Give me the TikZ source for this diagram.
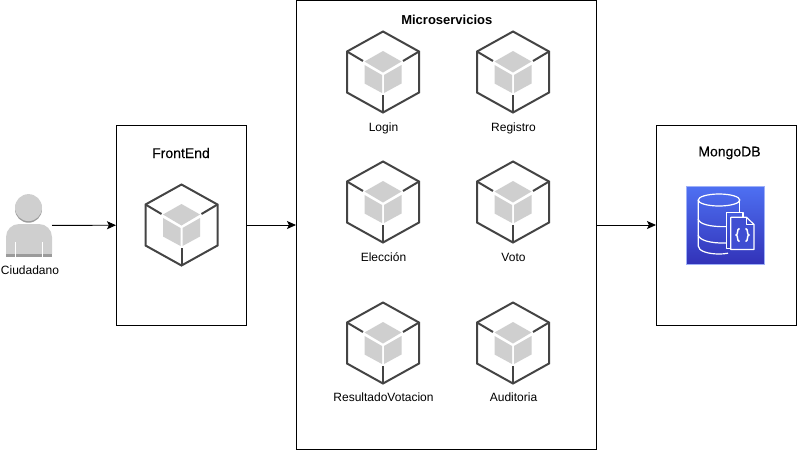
\documentclass[tikz,border=0pt]{standalone}
\usepackage{fontspec}
\setmainfont{Liberation Sans}
\usepackage{xcolor}
\usetikzlibrary{arrows.meta,positioning}
\definecolor{cubeline}{RGB}{68,68,68}
\definecolor{cubefill}{RGB}{207,207,207}
\definecolor{personshade}{RGB}{155,155,155}
\definecolor{icontop}{RGB}{78,112,242}
\definecolor{iconbottom}{RGB}{50,50,184}
\tikzset{
  servicebox/.style={draw,fill=white,line width=0.9pt,inner sep=0pt,outer sep=0pt},
  servicelabel/.style={font=\fontsize{12}{14}\selectfont,inner sep=0pt},
  boxtitle/.style={font=\fontsize{14}{16}\selectfont\addfontfeatures{FakeBold=0.25},inner sep=0pt},
  link/.style={-{Stealth[length=9pt,width=8pt,inset=2pt]},line width=0.9pt},
  iconline/.style={draw=white,line width=1.2pt,line join=round},
  cubeicon/.pic={
    \draw[cubeline,line width=2pt] (0,-40.5) -- (36,-20.5) -- (36,20.5) -- (0,40.5)
      -- (-36,20.5) -- (-36,-20.5) -- cycle;
    \draw[cubeline,line width=2pt] (-36,-20.5) -- (-20,-11);
    \draw[cubeline,line width=2pt] (36,-20.5) -- (20,-11);
    \draw[cubeline,line width=2pt] (0,23) -- (0,40.5);
    \fill[cubefill] (0,-21) -- (18.5,-10.5) -- (0,0.5) -- (-18.5,-10.5) -- cycle;
    \fill[cubefill] (-18.5,-7) -- (-1,3) -- (-1,21) -- (-18.5,11.5) -- cycle;
    \fill[cubefill] (18.5,-7) -- (1,3) -- (1,21) -- (18.5,11.5) -- cycle;
  }
}

\begin{document}
\begin{tikzpicture}[x=1pt,y=-1pt]
    \useasboundingbox (0,0) rectangle (797,451);
    % the three boxes
    \node[servicebox,minimum width=130pt,minimum height=200pt] (frontend) at (181,225) {};
    \node[servicebox,minimum width=300pt,minimum height=449pt] (micro) at (446,225) {};
    \node[servicebox,minimum width=140pt,minimum height=200pt] (mongodb) at (726,225) {};
    \node[boxtitle] (frontendtitle) at (181,153) {FrontEnd};
    \node[font=\fontsize{13}{15}\selectfont\bfseries,inner sep=0pt] (microtitle) at (446.8,20) {Microservicios};
    \node[boxtitle] (mongodbtitle) at (729.5,153) {MongoDB};
    % user
    \node[minimum width=46pt,minimum height=64pt,inner sep=0pt,outer sep=0pt] (ciudadano) at (29,225.5) {};
    \fill[personshade] (28.5,209.2) circle (13.5);
    \fill[cubefill] (28.5,207.6) circle (13.5);
    \fill[cubefill,rounded corners=13pt] (6,270) -- (6,224) -- (52,224) -- (52,270) -- cycle;
    \fill[white] (5,254) rectangle (53,272);
    \fill[personshade] (6,254) rectangle (52,257);
    \draw[white,line width=0.8pt] (15.5,242) -- (15.5,257);
    \draw[white,line width=0.8pt] (42,242) -- (42,257);
    \node[servicelabel] (ciudadanolabel) at (30,270.5) {Ciudadano};
    % containers
    \pic at (181.5,225) {cubeicon};
    \foreach \cx/\cy/\nm/\txt/\ly in {383/72/login/Login/128.5,513/72/registro/Registro/128.5,
      383/202/eleccion/Elección/257.5,513/202/voto/Voto/257.5,
      383/343/resultado/ResultadoVotacion/397.5,513/343/auditoria/Auditoria/397.5}{
      \pic at (\cx,\cy) {cubeicon};
      \node[servicelabel] (\nm) at (\cx+0.5,\ly) {\txt};
    }
    % database icon
    \node[minimum size=78pt,inner sep=0pt,outer sep=0pt,draw=icontop!55!white,line width=0.8pt,
      top color=icontop,bottom color=iconbottom] (mongoicon) at (725.5,225.3) {};
    \draw[iconline] (719,200) ellipse (20.8 and 6);
    \draw[iconline] (698.2,200) -- (698.2,246) .. controls (698.2,251) and (708,254) .. (719,254)
      .. controls (722,254) and (725,253.8) .. (728,253.2);
    \draw[iconline] (739.8,200) -- (739.8,212.5);
    \draw[iconline] (698.2,219) .. controls (699,224) and (710,227) .. (726,226.6);
    \draw[iconline] (698.2,235) .. controls (699,240) and (710,243.5) .. (726,243);
    \draw[iconline] (730.5,248.5) -- (726.5,248.5) -- (726.5,212.7) -- (743,212.7) -- (743,217.3);
    \draw[iconline,fill=icontop!45!iconbottom] (730.8,217.3) -- (746.5,217.3) -- (754,224.5)
      -- (754,249.5) -- (730.8,249.5) -- cycle;
    \draw[iconline] (746.5,217.3) -- (746.5,224.5) -- (754,224.5);
    \draw[iconline,line width=1.5pt] (739.5,228.5) .. controls (736.5,228.5) and (738.5,235) .. (736,235)
      .. controls (738.5,235) and (736.5,241.5) .. (739.5,241.5);
    \draw[iconline,line width=1.5pt] (745.5,228.5) .. controls (748.5,228.5) and (746.5,235) .. (749,235)
      .. controls (746.5,235) and (748.5,241.5) .. (745.5,241.5);
    % arrows
    \draw[link] (ciudadano) -- (frontend);
    \draw[link] (frontend) -- (micro);
    \draw[link] (micro) -- (mongodb);
  \end{tikzpicture}
\end{document}
